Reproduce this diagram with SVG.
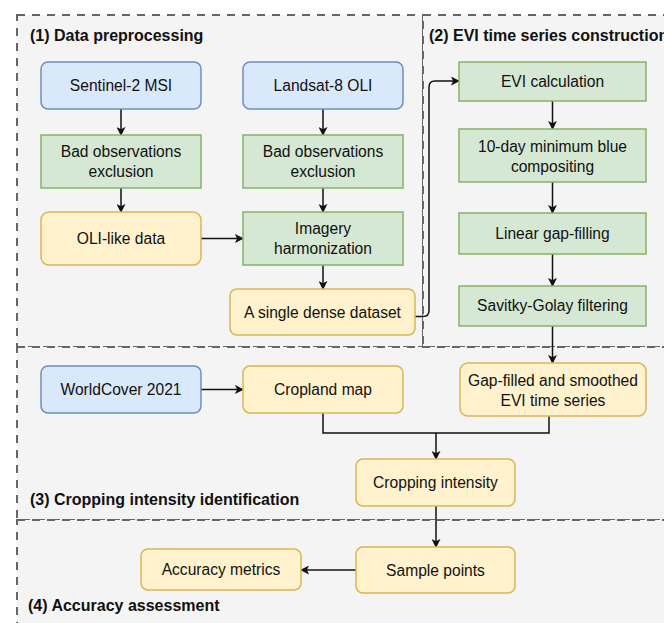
<svg xmlns="http://www.w3.org/2000/svg" width="664" height="623" viewBox="0 0 664 623">
<defs>
<marker id="arr" viewBox="0 0 10 10" refX="9" refY="5" markerWidth="9" markerHeight="9" markerUnits="userSpaceOnUse" orient="auto">
<path d="M0,0 L10,5 L0,10 L2.5,5 Z" fill="#111"/>
</marker>
</defs>
<style>
.region{fill:#f4f4f4;stroke:#666;stroke-width:2;stroke-dasharray:8 7}
.title{font-family:"Liberation Sans",Arial,sans-serif;font-weight:bold;font-size:16px;fill:#111}
.t{font-family:"Liberation Sans",Arial,sans-serif;font-size:15.6px;fill:#111;text-anchor:middle}
.blue{fill:#dae8fc;stroke:#6c8ebf;stroke-width:1.5}
.green{fill:#d5e8d4;stroke:#82b366;stroke-width:1.5}
.yellow{fill:#fff2cc;stroke:#d6b656;stroke-width:1.5}
.c{fill:none;stroke:#111;stroke-width:1.5;marker-end:url(#arr)}
.cn{fill:none;stroke:#111;stroke-width:1.5}
</style>
<rect x="0" y="0" width="664" height="623" fill="#ffffff"/>
<g id="regions">
<rect class="region" x="17" y="15" width="406" height="332"/>
<rect class="region" x="423" y="15" width="260" height="332"/>
<rect class="region" x="17" y="347" width="670" height="173"/>
<rect class="region" x="17" y="520" width="670" height="120"/>
</g>
<g id="titles">
<text class="title" x="30" y="41">(1) Data preprocessing</text>
<text class="title" x="429" y="41">(2) EVI time series construction</text>
<text class="title" x="30" y="505">(3) Cropping intensity identification</text>
<text class="title" x="28" y="611">(4) Accuracy assessment</text>
</g>
<g id="connectors">
<path class="c" d="M121,109 L121,135"/>
<path class="c" d="M323,109 L323,135"/>
<path class="c" d="M121,188 L121,212"/>
<path class="c" d="M323,188 L323,212"/>
<path class="c" d="M201,238.5 L243,238.5"/>
<path class="c" d="M323,265 L323,289"/>
<path class="c" d="M415,316.5 L423,316.5 Q429,316.5 429,310.5 L429,87 Q429,81 435,81 L459,81"/>
<path class="c" d="M552.5,101 L552.5,129"/>
<path class="c" d="M552.5,182 L552.5,213"/>
<path class="c" d="M552.5,254 L552.5,286"/>
<path class="c" d="M552.5,326 L552.5,363"/>
<path class="c" d="M201,389.5 L243,389.5"/>
<path class="cn" d="M323,413 L323,433 L549,433 L549,416"/>
<path class="c" d="M436,433 L436,459"/>
<path class="c" d="M436,506 L436,547"/>
<path class="c" d="M356,570 L301,570"/>
</g>
<g id="sentinel">
<rect class="blue" x="41" y="62" width="160" height="47" rx="7"/>
<text class="t" x="121" y="91">Sentinel-2 MSI</text>
</g>
<g id="landsat">
<rect class="blue" x="243" y="62" width="160" height="47" rx="7"/>
<text class="t" x="323" y="91">Landsat-8 OLI</text>
</g>
<g id="bad1">
<rect class="green" x="41" y="135" width="160" height="53"/>
<text class="t" x="121" y="157">Bad observations</text>
<text class="t" x="121" y="177">exclusion</text>
</g>
<g id="bad2">
<rect class="green" x="243" y="135" width="160" height="53"/>
<text class="t" x="323" y="157">Bad observations</text>
<text class="t" x="323" y="177">exclusion</text>
</g>
<g id="olilike">
<rect class="yellow" x="41" y="212" width="160" height="53" rx="8"/>
<text class="t" x="121" y="244">OLI-like data</text>
</g>
<g id="harmonization">
<rect class="green" x="243" y="212" width="160" height="53"/>
<text class="t" x="323" y="234">Imagery</text>
<text class="t" x="323" y="254">harmonization</text>
</g>
<g id="dense">
<rect class="yellow" x="230" y="289" width="185" height="46" rx="7"/>
<text class="t" x="322.5" y="318">A single dense dataset</text>
</g>
<g id="evicalc">
<rect class="green" x="459" y="62" width="187" height="39"/>
<text class="t" x="552.5" y="87">EVI calculation</text>
</g>
<g id="composite">
<rect class="green" x="459" y="129" width="187" height="53"/>
<text class="t" x="552.5" y="152">10-day minimum blue</text>
<text class="t" x="552.5" y="172">compositing</text>
</g>
<g id="linear">
<rect class="green" x="459" y="213" width="187" height="41"/>
<text class="t" x="552.5" y="239">Linear gap-filling</text>
</g>
<g id="savitky">
<rect class="green" x="459" y="286" width="187" height="40"/>
<text class="t" x="552.5" y="311">Savitky-Golay filtering</text>
</g>
<g id="gapfilled">
<rect class="yellow" x="460" y="363" width="186" height="53" rx="8"/>
<text class="t" x="553" y="386">Gap-filled and smoothed</text>
<text class="t" x="553" y="406">EVI time series</text>
</g>
<g id="worldcover">
<rect class="blue" x="41" y="366" width="160" height="47" rx="7"/>
<text class="t" x="121" y="395">WorldCover 2021</text>
</g>
<g id="cropland">
<rect class="yellow" x="243" y="366" width="160" height="47" rx="7"/>
<text class="t" x="323" y="395">Cropland map</text>
</g>
<g id="intensity">
<rect class="yellow" x="356" y="459" width="159" height="47" rx="7"/>
<text class="t" x="435.5" y="488">Cropping intensity</text>
</g>
<g id="samples">
<rect class="yellow" x="356" y="547" width="159" height="46" rx="7"/>
<text class="t" x="435.5" y="575.5">Sample points</text>
</g>
<g id="accuracy">
<rect class="yellow" x="141" y="549" width="160" height="41" rx="7"/>
<text class="t" x="221" y="575">Accuracy metrics</text>
</g>
</svg>
